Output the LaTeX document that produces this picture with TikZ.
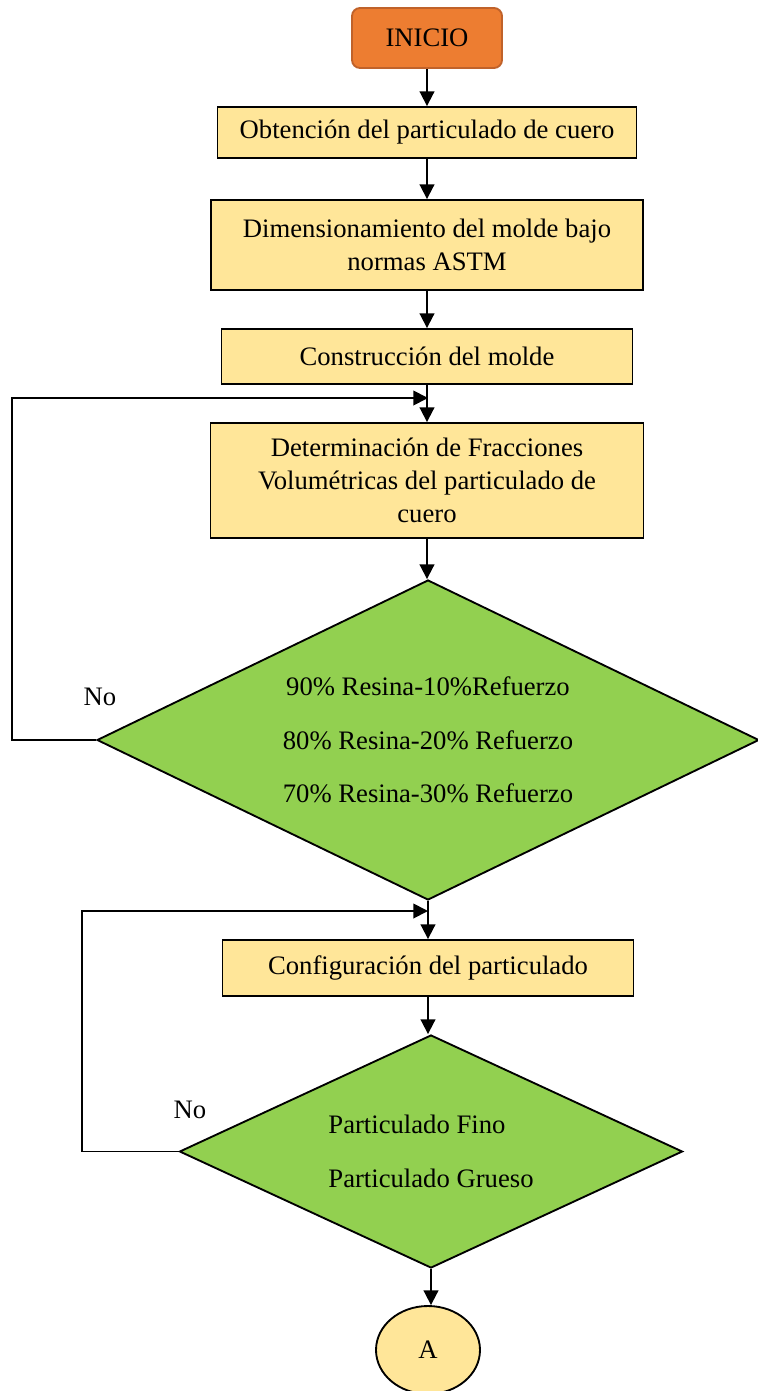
\documentclass[tikz,border=0pt]{standalone}
\usepackage{fontspec}
\setmainfont{Liberation Serif}
\usepackage{tikz}
\usetikzlibrary{
    arrows.meta,
    shapes.geometric
}
\definecolor{startfill}{HTML}{ED7D31}
\definecolor{startedge}{HTML}{C0622A}
\definecolor{stepfill}{HTML}{FFE699}
\definecolor{choicefill}{HTML}{92D050}

\begin{document}
\begin{tikzpicture}[
    x=0.75pt,y=-0.75pt,
    font=\fontsize{20}{24.75}\selectfont,
    line width=1.4pt,
    flow/.style={-{Triangle[length=11pt,width=11pt]}},
    start/.style={rectangle,rounded corners=6pt,draw=startedge,fill=startfill,line width=1.4pt,inner sep=0pt},
    stepbox/.style={rectangle,draw=black,fill=stepfill,align=center,inner sep=0pt},
    choice/.style={diamond,aspect=2,draw=black,fill=choicefill,inner sep=0pt},
    connector/.style={ellipse,draw=black,fill=stepfill,inner sep=0pt}
]
    \useasboundingbox (0,0) rectangle (757,1391);

    % Process steps
    \node[start,minimum width=112.5pt,minimum height=45pt] (inicio) at (427,38) {INICIO};
    \node[stepbox,minimum width=314.25pt,minimum height=38.25pt] (obt) at (427,132.5)
        {Obtención del particulado de cuero};
    \node[stepbox,minimum width=324pt,minimum height=67.5pt] (dim) at (427,245)
        {Dimensionamiento del molde bajo\\normas ASTM};
    \node[stepbox,minimum width=308.25pt,minimum height=41.25pt] (cons) at (427,356.5)
        {Construcción del molde};
    \node[stepbox,minimum width=324.75pt,minimum height=86.25pt] (frac) at (427,480.5)
        {Determinación de Fracciones\\Volumétricas del particulado de\\cuero};
    \node[choice,minimum width=496.5pt,minimum height=240pt,align=center] (vol) at (428,740)
        {90\% Resina-10\%Refuerzo\\[15.25pt]80\% Resina-20\% Refuerzo\\[15.25pt]70\% Resina-30\% Refuerzo};
    \node[stepbox,minimum width=308.25pt,minimum height=42pt] (conf) at (428,968)
        {Configuración del particulado};
    \node[choice,minimum width=377.25pt,minimum height=174.75pt,align=left] (part) at (431,1151.5)
        {Particulado Fino\\[15.75pt]Particulado Grueso};
    \node[connector,minimum width=78pt,minimum height=66pt] (a) at (428,1350) {A};

    \node (no1) at (100,697) {No};
    \node (no2) at (190,1110) {No};

    \coordinate (j1) at (428,398);
    \coordinate (j2) at (428,911);

    % Main flow
    \draw[flow] (inicio.south) -- (inicio.south |- obt.north);
    \draw[flow] (obt.south) -- (obt.south |- dim.north);
    \draw[flow] (dim.south) -- (dim.south |- cons.north);
    \draw[flow] (cons.south) -- (cons.south |- frac.north);
    \draw[flow] (frac.south) -- (frac.south |- vol.north);
    \draw[flow] (vol.south) -- (vol.south |- conf.north);
    \draw[flow] (conf.south) -- (conf.south |- part.north);
    \draw[flow] (part.south) -- (part.south |- a.north);

    % Loops back on "No"
    \draw[flow] (vol.west) -- ++(-84,0) |- (j1);
    \draw[flow] (part.west) -- ++(-97,0) |- (j2);
\end{tikzpicture}
\end{document}
